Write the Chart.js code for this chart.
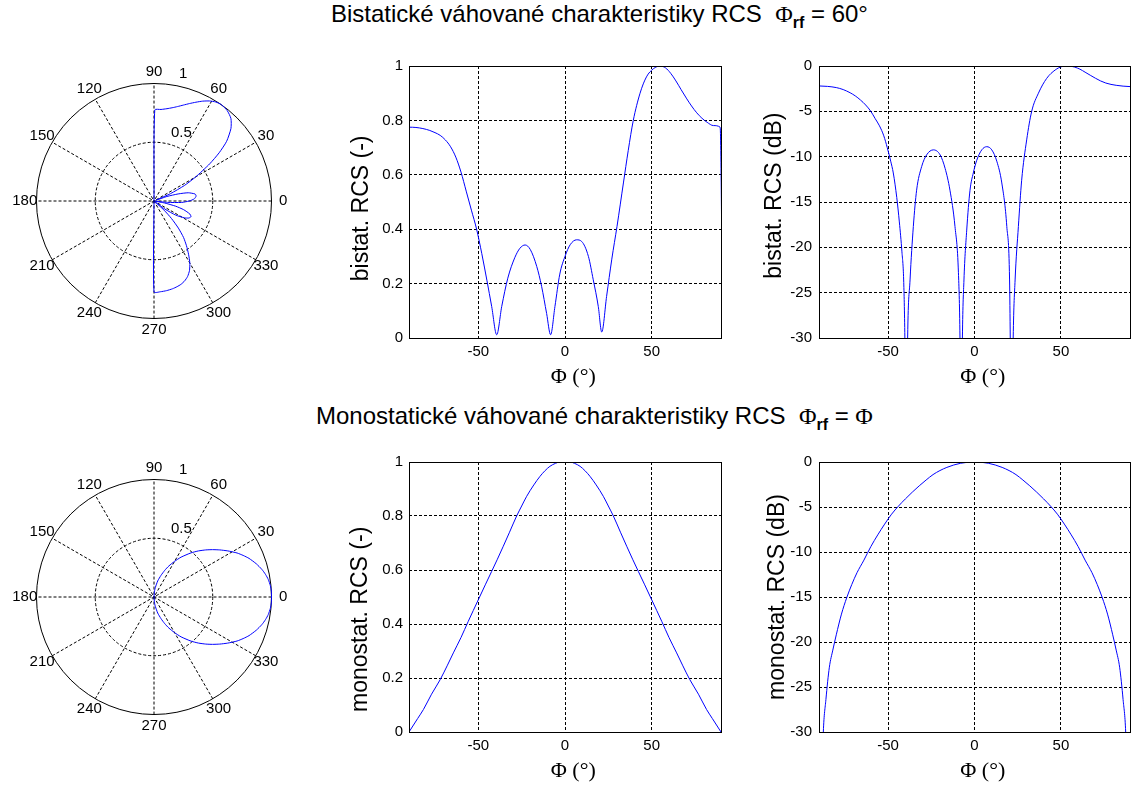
<!DOCTYPE html>
<html>
<head>
<meta charset="utf-8">
<script src="https://cdn.jsdelivr.net/npm/chart.js@4/dist/chart.umd.min.js"></script>
<style>
  body { margin: 0; background: #fff; width: 1131px; height: 787px; overflow: hidden; position: relative;
         font-family: "Liberation Sans", Arial, sans-serif; color: #000; }
  canvas { position: absolute; }
  .title { position: absolute; white-space: pre; font-size: 24px; line-height: 28px; }
  .phi { font-family: "Liberation Serif", "DejaVu Serif", serif; }
  .sub { font-size: 16px; font-weight: bold; position: relative; top: 6px; }
</style>
</head>
<body>
<div class="title" style="left:331px;top:0px">Bistatické váhované charakteristiky RCS  <span class="phi">Φ</span><span class="sub">rf</span> = 60°</div>
<div class="title" style="left:316px;top:402px">Monostatické váhované charakteristiky RCS  <span class="phi">Φ</span><span class="sub">rf</span> = <span class="phi">Φ</span></div>

<canvas id="polarBi" width="308" height="322" style="left:0px;top:40px"></canvas>
<canvas id="linBi" width="400" height="350" style="left:340px;top:40px"></canvas>
<canvas id="dbBi" width="391" height="350" style="left:740px;top:40px"></canvas>
<canvas id="polarMono" width="308" height="322" style="left:0px;top:436px"></canvas>
<canvas id="linMono" width="400" height="348" style="left:340px;top:436px"></canvas>
<canvas id="dbMono" width="391" height="348" style="left:740px;top:436px"></canvas>

<script>
// bistatická charakteristika (lineárně), Phi_rf = 60°
const phiBi = [-91.5, -90, -86, -82, -78, -75, -72, -69, -66, -63, -60, -57, -54, -51, -48, -45, -42.3, -39.4, -36.5, -33,
  -29, -26, -23, -20, -16.3, -13.5, -10.6, -8.3, -5.8, -3, 0, 3, 6.7, 9.6, 13.5, 16.3, 19.2, 21.2, 24, 27,
  30, 33.7, 36.5, 39.4, 43.3, 47, 51, 55, 58, 61, 64, 67, 70, 73, 76, 79, 82, 85.6, 89.5, 91];
const rcsBi = [0, 0.775, 0.774, 0.77, 0.763, 0.755, 0.745, 0.728, 0.703, 0.665, 0.61, 0.54, 0.47, 0.40, 0.31, 0.21, 0.116, 0.012, 0.116, 0.22,
  0.295, 0.33, 0.342, 0.325, 0.263, 0.19, 0.09, 0.012, 0.116, 0.235, 0.30, 0.343, 0.361, 0.355, 0.30, 0.214, 0.116, 0.022, 0.153, 0.29,
  0.41, 0.57, 0.69, 0.80, 0.90, 0.96, 0.99, 1.0, 0.993, 0.973, 0.945, 0.913, 0.882, 0.853, 0.828, 0.808, 0.793, 0.781, 0.775, 0];

// bistatická charakteristika (dB)
const phiBiDb = [-90, -85, -80, -76, -72, -69, -66, -63, -60, -57.5, -55, -52.5, -50.5, -48.5, -47, -45, -43.5, -42, -41, -40.3,
  -39.5, -38.7, -37.3, -35.4, -33.5, -30.6, -27.7, -23.8, -19.9, -17, -14.2, -11.3, -9.3, -8.4, -7.7, -7, -6.1, -4.5, -2.6, -0.7,
  1.3, 4.2, 7.1, 10, 12.9, 15.8, 18.7, 20.3, 20.7, 21.5, 22.4, 23.5, 25.4, 27.3, 30.2, 33.1, 37, 41.8, 46.7, 50.5,
  54.4, 56, 58, 61, 64, 67, 70, 73, 76, 79, 82, 86, 90];
const rcsBiDb = [-2.2, -2.25, -2.38, -2.6, -2.95, -3.3, -3.75, -4.3, -5.0, -5.8, -6.6, -7.7, -9.0, -10.5, -11.8, -14.5, -17.2, -20.5, -23.6, -30,
  -45, -30, -23.6, -17.7, -13.7, -11.1, -9.8, -9.25, -9.8, -11.3, -13.7, -17.7, -22.8, -30, -45, -30, -23.6, -18.1, -13.7, -11.8,
  -10.4, -9.25, -8.9, -9.25, -10.5, -12.9, -17.7, -23.6, -30, -45, -30, -23.6, -17.7, -12.6, -8.15, -5.0, -3.0, -1.36, -0.44, -0.07,
  0, -0.03, -0.12, -0.35, -0.68, -1.02, -1.35, -1.65, -1.88, -2.03, -2.13, -2.22, -2.27];

// monostatická charakteristika (lineárně), Phi_rf = Phi
const phiMono = [-90, -85, -81.7, -77, -72, -68, -64.4, -60, -55.8, -50, -46, -42.3, -39, -35.6, -32, -27.9, -25, -22.1, -18, -14.4,
  -11.5, -8.7, -5.5, -2.9, 0, 2.9, 5.5, 8.7, 11.5, 14.4, 18, 22.1, 25, 27.9, 32, 35.6, 39, 42.3, 46, 50,
  55.8, 60, 64.4, 68, 72, 77, 81.7, 85, 90];
const rcsMono = [0, 0.05, 0.083, 0.14, 0.194, 0.245, 0.293, 0.35, 0.41, 0.49, 0.545, 0.595, 0.64, 0.688, 0.74, 0.80, 0.837, 0.873, 0.915, 0.947,
  0.968, 0.984, 0.995, 1.0, 1.0, 1.0, 0.995, 0.984, 0.968, 0.947, 0.915, 0.873, 0.837, 0.80, 0.74, 0.688, 0.64, 0.595, 0.545, 0.49,
  0.41, 0.35, 0.293, 0.245, 0.194, 0.14, 0.083, 0.05, 0];

// monostatická charakteristika (dB)
const phiMonoDb = [-89, -87.5, -86, -84, -82, -80, -77, -74, -71, -68, -64, -60, -56, -52, -48, -44, -40, -36, -32, -28,
  -24, -20, -16, -12, -8, -4, 0, 4, 8, 12, 16, 20, 24, 28, 32, 36, 40, 44, 48, 52,
  56, 60, 64, 68, 71, 74, 77, 80, 82, 84, 86, 87.5, 89];
const rcsMonoDb = [-40, -30, -26.4, -22.8, -20.9, -19.2, -16.9, -15.1, -13.6, -12.3, -10.9, -9.4, -8.1, -6.9, -5.8, -4.9, -4.1, -3.35, -2.65, -2.0,
  -1.4, -0.95, -0.6, -0.33, -0.14, -0.03, 0, -0.03, -0.14, -0.33, -0.6, -0.95, -1.4, -2.0, -2.65, -3.35, -4.1, -4.9, -5.8, -6.9,
  -8.1, -9.4, -10.9, -12.3, -13.6, -15.1, -16.9, -19.2, -20.9, -22.8, -26.4, -30, -40];

// popisky polárního grafu
const angleTicks = [0, 30, 60, 90, 120, 150, 180, 210, 240, 270, 300, 330];
const radiusTicks = [0.5, 1];

Chart.defaults.font.family = '"Liberation Sans", Arial, sans-serif';
Chart.defaults.color = '#000';

const BLUE = '#0000ff';
const DASH = [3, 2];
const TICK_FONT = 15;

// rámeček kolem osy jako v Matlabu
const boxPlugin = {
  id: 'box',
  afterDatasetsDraw(chart) {
    const { ctx, chartArea: a } = chart;
    ctx.save();
    ctx.strokeStyle = '#000';
    ctx.lineWidth = 1;
    ctx.setLineDash([]);
    ctx.strokeRect(Math.round(a.left) + 0.5, Math.round(a.top) + 0.5,
      Math.round(a.right - a.left), Math.round(a.bottom - a.top));
    ctx.restore();
  }
};

// mřížka polárního grafu (kružnice, paprsky, popisky)
const polarGrid = {
  id: 'polarGrid',
  beforeDatasetsDraw(chart) {
    const { ctx, scales: { x, y } } = chart;
    const rMax = radiusTicks[radiusTicks.length - 1];
    const px = (r, deg) => x.getPixelForValue(r * Math.cos(deg * Math.PI / 180));
    const py = (r, deg) => y.getPixelForValue(r * Math.sin(deg * Math.PI / 180));
    const cx = px(0, 0), cy = py(0, 0);
    ctx.save();
    ctx.strokeStyle = '#000';
    ctx.lineWidth = 1;
    ctx.setLineDash(DASH);
    for (let k = 1; k <= 6; k++) {
      const a = k * 30;
      ctx.beginPath();
      ctx.moveTo(px(rMax, a + 180), py(rMax, a + 180));
      ctx.lineTo(px(rMax, a), py(rMax, a));
      ctx.stroke();
    }
    radiusTicks.forEach(r => {
      ctx.setLineDash(r < rMax ? DASH : []);
      ctx.beginPath();
      ctx.arc(cx, cy, px(r, 0) - cx, 0, 2 * Math.PI);
      ctx.stroke();
    });
    ctx.fillStyle = '#000';
    ctx.font = TICK_FONT + 'px "Liberation Sans", Arial, sans-serif';
    ctx.textAlign = 'center';
    ctx.textBaseline = 'middle';
    angleTicks.forEach(a => ctx.fillText(String(a), px(1.1 * rMax, a), py(1.1 * rMax, a)));
    ctx.textAlign = 'left';
    ctx.textBaseline = 'bottom';
    radiusTicks.forEach(r => {
      const rr = r + (radiusTicks[1] - radiusTicks[0]) / 20;
      ctx.fillText('  ' + r, px(rr, 82), py(rr, 82));
    });
    ctx.restore();
  }
};

function polarChart(id, phi, r) {
  const pts = phi.map((p, i) => ({
    x: r[i] * Math.cos(p * Math.PI / 180),
    y: r[i] * Math.sin(p * Math.PI / 180)
  }));
  return new Chart(document.getElementById(id), {
    type: 'scatter',
    data: { datasets: [{ data: pts, showLine: true, borderColor: BLUE, borderWidth: 1, pointRadius: 0, tension: 0.2, clip: false }] },
    options: {
      responsive: false, animation: false, events: [],
      layout: { padding: 0 },
      plugins: { legend: { display: false }, tooltip: { enabled: false } },
      scales: {
        x: { type: 'linear', min: -1.3106, max: 1.3106, display: false },
        y: { type: 'linear', min: -1.3696, max: 1.3696, display: false }
      }
    },
    plugins: [polarGrid]
  });
}

function lineChart(id, phi, vals, cfg) {
  const pts = phi.map((p, i) => ({ x: p, y: vals[i] }));
  return new Chart(document.getElementById(id), {
    type: 'scatter',
    data: { datasets: [{ data: pts, showLine: true, borderColor: BLUE, borderWidth: 1, pointRadius: 0,
      cubicInterpolationMode: 'monotone', clip: 0 }] },
    options: {
      responsive: false, animation: false, events: [],
      layout: { padding: { left: 0, top: 26, right: cfg.right, bottom: 0 } },
      plugins: { legend: { display: false }, tooltip: { enabled: false } },
      scales: {
        x: {
          type: 'linear', min: -90, max: 90,
          ticks: { stepSize: 50, includeBounds: false, padding: 5, font: { size: TICK_FONT } },
          grid: { color: '#000', lineWidth: 1, drawTicks: false, borderDash: DASH },
          border: { display: false, dash: DASH },
          title: { display: true, text: '   Φ (°)', padding: 0,
                   font: { family: '"Liberation Serif", "DejaVu Serif", serif', size: 22 } },
          afterFit: s => { s.height = 52; }
        },
        y: {
          type: 'linear', min: cfg.min, max: cfg.max,
          ticks: { stepSize: cfg.step, padding: cfg.tickPad, font: { size: TICK_FONT },
                   callback: v => String(Math.round(v * 100) / 100) },
          grid: { color: '#000', lineWidth: 1, drawTicks: false, borderDash: DASH },
          border: { display: false, dash: DASH },
          title: { display: true, text: cfg.title, padding: { top: cfg.titlePad, bottom: 0 }, font: { size: 23 } },
          afterFit: s => { s.width = cfg.width; }
        }
      }
    },
    plugins: [boxPlugin]
  });
}

polarChart('polarBi', phiBi, rcsBi);
lineChart('linBi', phiBi, rcsBi, { min: 0, max: 1, step: 0.2, title: 'bistat. RCS (-)  ', width: 69, right: 19, tickPad: 6, titlePad: 8 });
lineChart('dbBi', phiBiDb, rcsBiDb, { min: -30, max: 0, step: 5, title: '  bistat. RCS (dB)', width: 79, right: 1, tickPad: 7, titlePad: 21 });
polarChart('polarMono', phiMono, rcsMono);
lineChart('linMono', phiMono, rcsMono, { min: 0, max: 1, step: 0.2, title: 'monostat. RCS (-)       ', width: 69, right: 19, tickPad: 6, titlePad: 7 });
lineChart('dbMono', phiMonoDb, rcsMonoDb, { min: -30, max: 0, step: 5, title: 'monostat. RCS (dB)', width: 79, right: 1, tickPad: 7, titlePad: 24 });
</script>
</body>
</html>
